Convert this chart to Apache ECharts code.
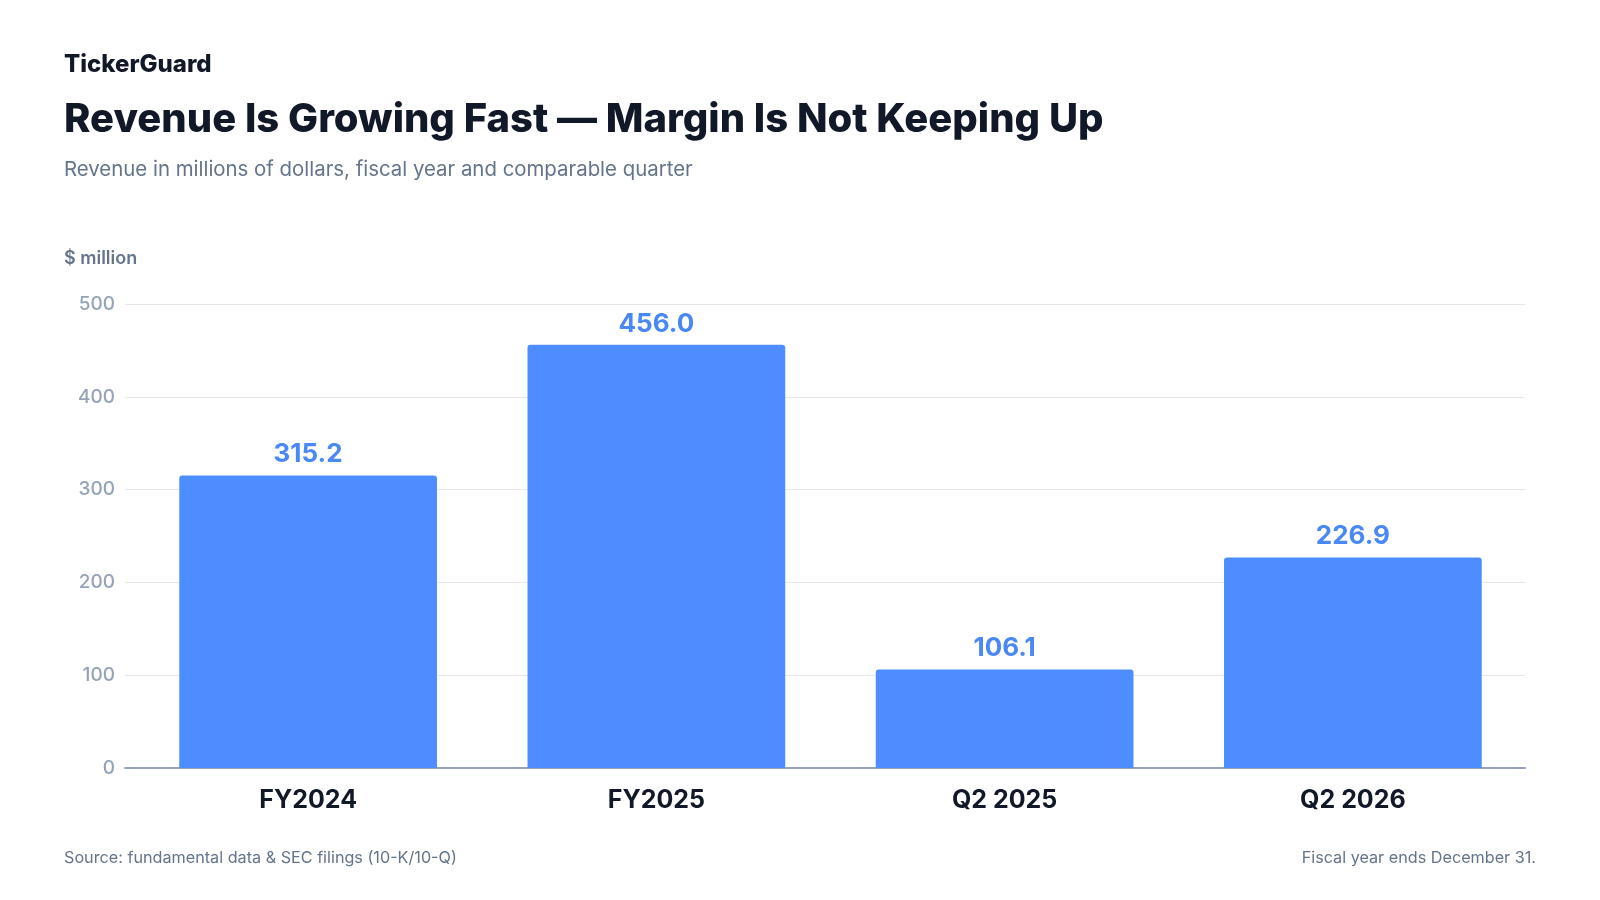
<!DOCTYPE html>
<html>
<head>
<meta charset="utf-8">
<script src="https://cdn.jsdelivr.net/npm/echarts@6/dist/echarts.min.js"></script>
<style>
  html, body { margin: 0; padding: 0; background: #fff; }
  #main { width: 1600px; height: 900px; }
</style>
</head>
<body>
<div id="main"></div>
<script>
var categories = ['FY2024', 'FY2025', 'Q2 2025', 'Q2 2026'];
var revenue = [315.2, 456.0, 106.1, 226.9];
var yTicks = [0, 100, 200, 300, 400, 500];

var font = 'Inter, "Noto Sans", sans-serif';
var myChart = echarts.init(document.getElementById('main'));
option = {
    backgroundColor: '#ffffff',
    title: [
      {
        text: 'TickerGuard',
        left: 59, top: 48,
        textStyle: { fontFamily: font, fontSize: 24, fontWeight: 800, color: '#111827' }
      },
      {
        text: 'Revenue Is Growing Fast — Margin Is Not Keeping Up',
        left: 59, top: 95,
        textStyle: { fontFamily: font, fontSize: 40, fontWeight: 800, color: '#111827' }
      },
      {
        text: 'Revenue in millions of dollars, fiscal year and comparable quarter',
        left: 59, top: 155,
        textStyle: { fontFamily: font, fontSize: 20.4, fontWeight: 'normal', color: '#64748b' }
      },
      {
        text: '$ million',
        left: 59, top: 245,
        textStyle: { fontFamily: font, fontSize: 18, fontWeight: 600, color: '#64748b' }
      },
      {
        text: 'Source: fundamental data & SEC filings (10-K/10-Q)',
        left: 59, top: 845,
        textStyle: { fontFamily: font, fontSize: 16.2, fontWeight: 'normal', color: '#64748b' }
      },
      {
        text: 'Fiscal year ends December 31.',
        right: 59, top: 845,
        textStyle: { fontFamily: font, fontSize: 16.2, fontWeight: 'normal', color: '#64748b' }
      }
    ],
    // grid 0 carries the y scale, gridlines and baseline; grid 1 holds the bars
    grid: [
      { left: 125, right: 75, top: 304, bottom: 132 },
      { left: 134, right: 73, top: 304, bottom: 132 }
    ],
    xAxis: [
      {
        gridIndex: 0,
        type: 'category',
        data: categories,
        axisTick: { show: false },
        axisLabel: { show: false },
        axisLine: { lineStyle: { color: '#94a3b8', width: 2 } }
      },
      {
        gridIndex: 1,
        type: 'category',
        data: categories,
        axisTick: { show: false },
        axisLine: { show: false },
        axisLabel: { margin: 20, fontFamily: font, fontSize: 25, fontWeight: 'bold', color: '#111827' }
      }
    ],
    yAxis: [
      {
        gridIndex: 0,
        type: 'value',
        min: yTicks[0],
        max: yTicks[yTicks.length - 1],
        interval: 100,
        splitLine: { lineStyle: { color: '#e5e7eb', width: 1 } },
        axisLabel: { margin: 10, fontFamily: font, fontSize: 19, fontWeight: 500, color: '#94a3b8' }
      },
      {
        gridIndex: 1,
        type: 'value',
        min: yTicks[0],
        max: yTicks[yTicks.length - 1],
        interval: 100,
        show: false
      }
    ],
    series: [
      {
        name: 'Revenue',
        type: 'bar',
        xAxisIndex: 1,
        yAxisIndex: 1,
        data: revenue,
        barWidth: '74%',
        z: 3,
        itemStyle: { color: '#4d8dff', borderRadius: [3, 3, 0, 0] },
        label: {
          show: true,
          position: 'top',
          distance: 8,
          formatter: function (p) { return p.value.toFixed(1); },
          fontFamily: font, fontSize: 26, fontWeight: 'bold', color: '#4a88f5'
        }
      }
    ]
};
myChart.setOption(option);
</script>
</body>
</html>
